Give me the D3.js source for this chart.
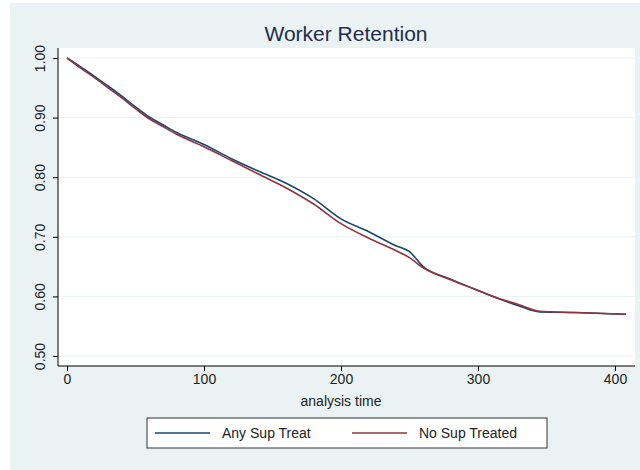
<!DOCTYPE html>
<html><head><meta charset="utf-8">
<script src="https://cdn.jsdelivr.net/npm/d3@7"></script>
<style>body{margin:0;background:#fff}text{font-family:Arial,"Liberation Sans",sans-serif}</style>
</head><body>
<script>
const times   = [0,10,20,30,40,50,60,70,80,100,120,140,160,180,200,220,240,250,260,280,300,311,330,345,370,408];
const noSup   = [1,.983,.967,.95,.933,.915,.898,.885,.872,.851,.828,.805,.782,.755,.722,.698,.677,.665,.648,.628,.61,.60,.586,.575,.573,.570];
const anySup  = [1,.985,.969,.953,.936,.918,.901,.888,.875,.855,.831,.81,.79,.764,.73,.709,.685,.675,.65,.629,.61,.60,.584,.574,.573,.570];
const xTicks = [0,100,200,300,400];
const yTicks = [.5,.6,.7,.8,.9,1];

const svg = d3.select('body').append('svg').attr('width',640).attr('height',470);
svg.append('rect').attr('x',10).attr('y',3).attr('width',630).attr('height',467).attr('fill','#eaf2f3');
const L=58,T=48,R=635,B=366;
svg.append('rect').attr('x',L).attr('y',T).attr('width',R-L).attr('height',B-T).attr('fill','#fff');

const x = d3.scaleLinear().domain([0,400]).range([67,615]);
const y = d3.scaleLinear().domain([.5,1]).range([356,58]);

// grid
svg.append('g').selectAll('line').data(yTicks).join('line')
  .attr('x1',L).attr('x2',R).attr('y1',d=>y(d)).attr('y2',d=>y(d))
  .attr('stroke','#eaf2f3').attr('stroke-width',1);

svg.append('g').attr('transform',`translate(0,${B})`)
  .call(d3.axisBottom(x).tickValues(xTicks).tickSize(5).tickPadding(3))
  .call(g=>g.select('.domain').attr('d',`M${L},0H${R}`))
  .call(g=>g.selectAll('text').attr('font-size',14).attr('fill','#222'));
svg.append('g').attr('transform',`translate(${L},0)`)
  .call(d3.axisLeft(y).tickValues(yTicks).tickFormat(d3.format('.2f')).tickSize(5).tickPadding(3))
  .call(g=>g.select('.domain').attr('d',`M0,${T}V${B}`))
  .call(g=>g.selectAll('text').attr('font-size',14).attr('fill','#222')
    .attr('text-anchor','middle').attr('x',0).attr('y',0).attr('dy',0)
    .attr('transform','translate(-13,0) rotate(-90)'));

const line = d3.line().x((d,i)=>x(times[i])).y(d=>y(d)).curve(d3.curveMonotoneX);
svg.append('path').datum(anySup).attr('d',line).attr('fill','none').attr('stroke','#1a476f').attr('stroke-width',1.6);
svg.append('path').datum(noSup).attr('d',line).attr('fill','none').attr('stroke','#90353b').attr('stroke-width',1.6);

svg.append('text').attr('x',346).attr('y',41).attr('text-anchor','middle').attr('font-size',21).attr('fill','#1e2e4a').text('Worker Retention');
svg.append('text').attr('x',341).attr('y',406).attr('text-anchor','middle').attr('font-size',14).attr('fill','#222').text('analysis time');

const lg = svg.append('g');
lg.append('rect').attr('x',147).attr('y',418).attr('width',400).attr('height',30).attr('fill','#fff').attr('stroke','#333');
const items=[['Any Sup Treat','#1a476f',155],['No Sup Treated','#90353b',352]];
items.forEach(([t,c,x0])=>{
  lg.append('line').attr('x1',x0).attr('x2',x0+55).attr('y1',433).attr('y2',433).attr('stroke',c).attr('stroke-width',1.5);
  lg.append('text').attr('x',x0+67).attr('y',438).attr('font-size',14).attr('fill','#222').text(t);
});
</script>
</body></html>
